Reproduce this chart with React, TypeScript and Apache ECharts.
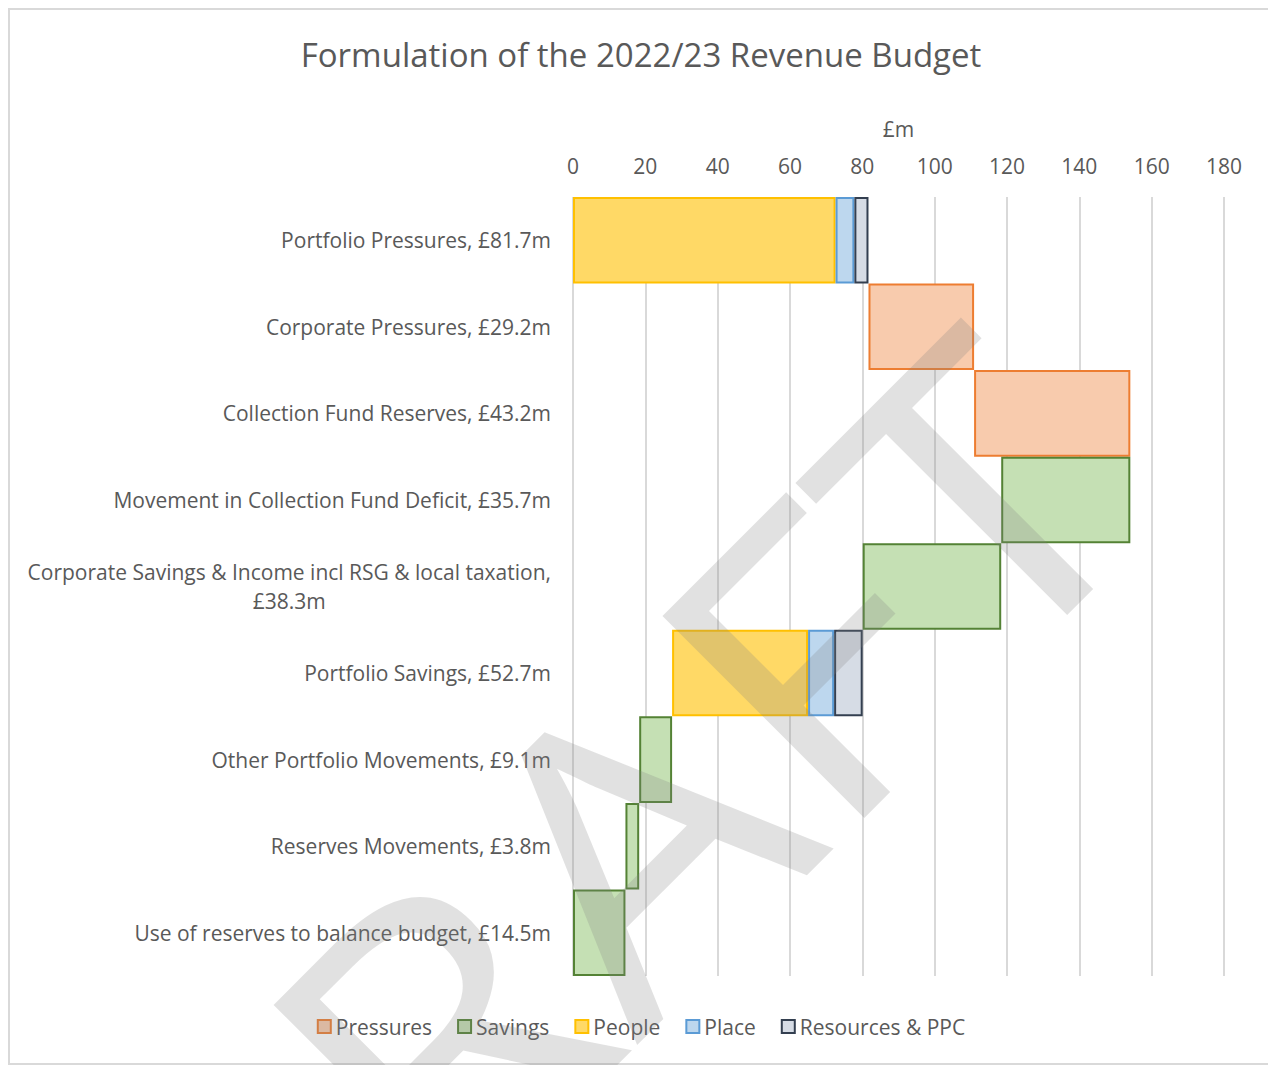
import React, { useEffect, useRef } from 'react';
import * as echarts from 'echarts';

const categories = [
  'Portfolio Pressures, £81.7m',
  'Corporate Pressures, £29.2m',
  'Collection Fund Reserves, £43.2m',
  'Movement in Collection Fund Deficit, £35.7m',
  'Corporate Savings & Income incl RSG & local taxation,\n£38.3m',
  'Portfolio Savings, £52.7m',
  'Other Portfolio Movements, £9.1m',
  'Reserves Movements, £3.8m',
  'Use of reserves to balance budget, £14.5m',
];
const offsets = [0, 81.7, 110.9, 118.4, 80.1, 27.4, 18.3, 14.5, 0];
const pressures = ['-', 29.2, 43.2, '-', '-', '-', '-', '-', '-'];
const savings = ['-', '-', '-', 35.7, 38.3, '-', 9.1, 3.8, 14.5];
const people = [72.6, '-', '-', '-', '-', 37.6, '-', '-', '-'];
const place = [5.2, '-', '-', '-', '-', 7.2, '-', '-', '-'];
const resources = [3.9, '-', '-', '-', '-', 7.9, '-', '-', '-'];
const legendNames = ['Pressures', 'Savings', 'People', 'Place', 'Resources & PPC'];

const FONT = "'Open Sans', sans-serif";
const TXT = '#595959';

export default function App() {
  const ref = useRef<HTMLDivElement>(null);
  useEffect(() => {
    if (!ref.current) return;
    const chart = echarts.init(ref.current, undefined, { renderer: 'svg' });
    const mk = (name: string, data: any[], fill: string, border: string) => ({
      name,
      type: 'bar',
      stack: 'total',
      barCategoryGap: '0%',
      data,
      itemStyle: { color: fill, borderColor: border, borderWidth: 2 },
      emphasis: { disabled: true },
    });
    chart.setOption({
      animation: false,
      textStyle: { fontFamily: FONT },
      title: {
        text: 'Formulation of the 2022/23 Revenue Budget',
        left: 'center',
        top: 25,
        textStyle: { fontSize: 33, fontWeight: 'normal', color: TXT, fontFamily: FONT },
      },
      legend: {
        data: legendNames,
        bottom: 23,
        left: 'center',
        icon: 'rect',
        itemWidth: 13,
        itemHeight: 13,
        itemGap: 25,
        textStyle: { fontSize: 21, color: TXT, fontFamily: FONT },
      },
      grid: { left: 565, top: 189, width: 651, height: 779 },
      xAxis: {
        type: 'value',
        position: 'top',
        min: 0,
        max: 180,
        interval: 20,
        name: '£m',
        nameLocation: 'middle',
        nameGap: 58,
        nameTextStyle: { fontSize: 21, color: TXT, fontFamily: FONT },
        axisLabel: { fontSize: 21, color: TXT, margin: 21, fontFamily: FONT },
        axisLine: { show: false },
        axisTick: { show: false },
        splitLine: { show: true, lineStyle: { color: '#d9d9d9', width: 2 } },
      },
      yAxis: {
        type: 'category',
        data: categories,
        inverse: true,
        axisLine: { show: false },
        axisTick: { show: false },
        axisLabel: {
          fontSize: 21,
          color: TXT,
          margin: 22,
          lineHeight: 29,
          fontFamily: FONT,
          formatter: (v: string) => (v.indexOf('\n') >= 0 ? v.replace('\n', '\n{c|') + '}' : v),
          rich: { c: { align: 'center', fontSize: 21, color: TXT, lineHeight: 29, fontFamily: FONT } },
        },
      },
      series: [
        {
          name: 'base',
          type: 'bar',
          stack: 'total',
          barCategoryGap: '0%',
          data: offsets,
          silent: true,
          itemStyle: { color: 'transparent', borderWidth: 0 },
          emphasis: { disabled: true },
        },
        mk('Pressures', pressures, '#F8CBAD', '#ED7D31'),
        mk('Savings', savings, '#C5E0B4', '#548235'),
        mk('People', people, '#FFD966', '#FFC000'),
        mk('Place', place, '#BDD7EE', '#5B9BD5'),
        mk('Resources & PPC', resources, '#D6DCE5', '#333F50'),
      ],
      graphic: [
        {
          type: 'rect',
          silent: true,
          shape: { x: 1, y: 1, width: 1264, height: 1055 },
          style: { fill: 'none', stroke: '#d9d9d9', lineWidth: 2 },
          z: 0,
        },
        {
          type: 'text',
          silent: true,
          x: 575,
          y: 872,
          rotation: Math.PI / 4,
          scaleX: 1.1,
          scaleY: 1,
          z: 100,
          style: {
            text: 'DRAFT',
            font: "400px 'Open Sans', sans-serif",
            fill: 'rgba(128,128,128,0.24)',
            align: 'center',
            verticalAlign: 'middle',
          },
        },
      ],
    });
    return () => chart.dispose();
  }, []);
  return <div ref={ref} style={{ width: 1266, height: 1057 }} />;
}
